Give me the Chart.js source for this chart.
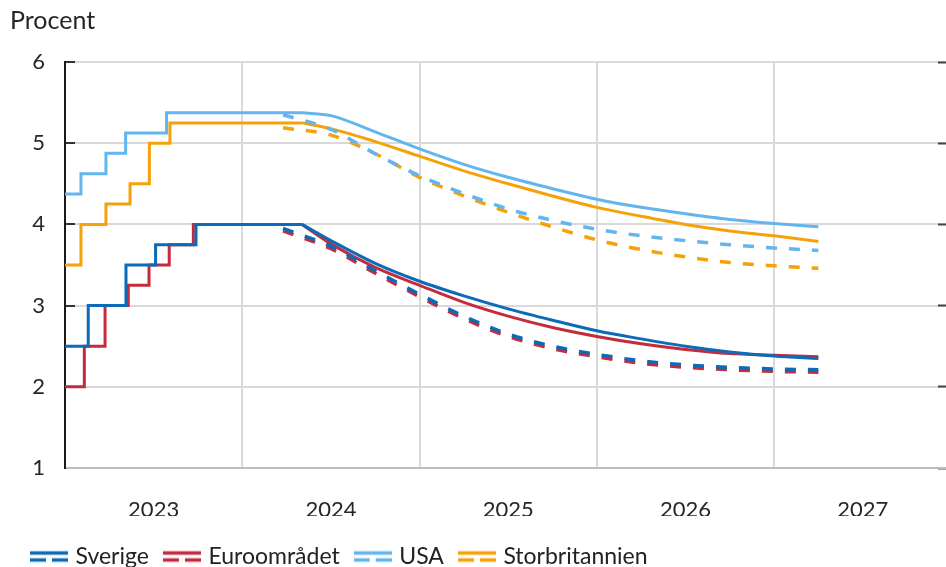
<!DOCTYPE html>
<html>
<head>
<meta charset="utf-8">
<script src="https://cdn.jsdelivr.net/npm/chart.js@4.4.1/dist/chart.umd.min.js"></script>
<style>
html,body{margin:0;padding:0;background:#ffffff;}
#wrap{width:946px;height:567px;position:relative;}
</style>
</head>
<body>
<div id="wrap"><canvas id="c" width="946" height="567" style="width:946px;height:567px;"></canvas></div>
<script>
// ---------------- data ----------------
const yearLabels = [2023, 2024, 2025, 2026, 2027];
const yTicks = [1, 2, 3, 4, 5, 6];
const seriesNames = ['Sverige', 'Euroområdet', 'USA', 'Storbritannien'];

// outcomes (policy rate, step changes), x in decimal years
const seHistDates = [2023.0, 2023.131, 2023.344, 2023.511, 2023.739, 2024.337];
const seHistRate  = [2.5, 3.0, 3.5, 3.75, 4.0, 4.0];
const euHistDates = [2023.0, 2023.109, 2023.226, 2023.357, 2023.474, 2023.588, 2023.724, 2024.337];
const euHistRate  = [2.0, 2.5, 3.0, 3.25, 3.5, 3.75, 4.0, 4.0];
const usHistDates = [2023.0, 2023.090, 2023.231, 2023.342, 2023.573, 2024.337];
const usHistRate  = [4.375, 4.625, 4.875, 5.125, 5.375, 5.375];
const ukHistDates = [2023.0, 2023.090, 2023.231, 2023.367, 2023.476, 2023.592, 2024.337];
const ukHistRate  = [3.5, 4.0, 4.25, 4.5, 5.0, 5.25, 5.25];

// current expectations (solid)
const fwdDates = [2024.337, 2024.5, 2024.75, 2025.0, 2025.25, 2025.5, 2025.75, 2026.0, 2026.25, 2026.5, 2026.75, 2027.0, 2027.25];
const seFwd = [4.00, 3.80, 3.52, 3.30, 3.12, 2.96, 2.82, 2.69, 2.59, 2.50, 2.43, 2.38, 2.35];
const euFwd = [4.00, 3.76, 3.47, 3.25, 3.04, 2.87, 2.73, 2.62, 2.53, 2.46, 2.41, 2.39, 2.37];
const usFwd = [5.375, 5.34, 5.14, 4.93, 4.74, 4.58, 4.44, 4.31, 4.21, 4.13, 4.06, 4.01, 3.97];
const ukFwd = [5.25, 5.18, 5.02, 4.84, 4.66, 4.50, 4.35, 4.21, 4.10, 4.00, 3.92, 3.86, 3.79];

// earlier expectations (dashed)
const prevDates = [2024.23, 2024.5, 2024.75, 2025.0, 2025.25, 2025.5, 2025.75, 2026.0, 2026.25, 2026.5, 2026.75, 2027.0, 2027.25];
const sePrev = [3.95, 3.73, 3.43, 3.14, 2.87, 2.65, 2.50, 2.40, 2.32, 2.27, 2.24, 2.22, 2.21];
const euPrev = [3.92, 3.70, 3.40, 3.11, 2.84, 2.62, 2.47, 2.37, 2.29, 2.24, 2.21, 2.19, 2.18];
const usPrev = [5.35, 5.17, 4.87, 4.60, 4.38, 4.19, 4.05, 3.94, 3.86, 3.80, 3.75, 3.71, 3.68];
const ukPrev = [5.19, 5.10, 4.87, 4.58, 4.35, 4.15, 3.97, 3.81, 3.69, 3.60, 3.53, 3.49, 3.46];

// ---------------- styling ----------------
const FONT = 'Lato';
const COLORS = ['#0b6bb8', '#c42b3c', '#63b5ee', '#f5a20a'];
const GRID = '#d9d9d9';

function pts(xs, ys) { return xs.map((x, i) => ({x: x, y: ys[i]})); }

function makeIcon(color) {
  const c = document.createElement('canvas');
  c.width = 38; c.height = 14;
  const g = c.getContext('2d');
  g.strokeStyle = color;
  g.lineWidth = 3.5;
  g.beginPath(); g.moveTo(0, 3.5); g.lineTo(38, 3.5); g.stroke();
  g.beginPath(); g.moveTo(0, 10.5); g.lineTo(16, 10.5); g.moveTo(22, 10.5); g.lineTo(38, 10.5); g.stroke();
  return c;
}

const groups = [
  [seHistDates, seHistRate, seFwd, sePrev],
  [euHistDates, euHistRate, euFwd, euPrev],
  [usHistDates, usHistRate, usFwd, usPrev],
  [ukHistDates, ukHistRate, ukFwd, ukPrev]
];

const datasets = [];
const legendIdx = [];
groups.forEach((g, k) => {
  const col = COLORS[k];
  legendIdx.push(datasets.length);
  datasets.push({label: seriesNames[k], data: pts(g[0], g[1]), borderColor: col, backgroundColor: col,
    borderWidth: 3, pointRadius: 0, stepped: 'before', fill: false});
  datasets.push({label: seriesNames[k] + ' ', data: pts(fwdDates, g[2]), borderColor: col, backgroundColor: col,
    borderWidth: 3, pointRadius: 0, cubicInterpolationMode: 'monotone', fill: false});
  datasets.push({label: seriesNames[k] + '  ', data: pts(prevDates, g[3]), borderColor: col, backgroundColor: col,
    borderWidth: 3.5, borderDash: [11, 12], borderCapStyle: 'butt', pointRadius: 0, cubicInterpolationMode: 'monotone', fill: false});
});

const icons = COLORS.map(makeIcon);

const xTickValues = [];
yearLabels.forEach(y => { xTickValues.push(y); xTickValues.push(y + 0.5); });
const isInt = v => Math.abs(v - Math.round(v)) < 1e-6;

const legendShift = {
  id: 'legendShift',
  afterLayout(chart) {
    const lg = chart.legend;
    if (!lg) return;
    lg.left += 6; lg.right += 6; lg.top += 11; lg.bottom += 11;
  }
};

new Chart(document.getElementById('c'), {
  type: 'line',
  data: {datasets: datasets},
  plugins: [legendShift],
  options: {
    responsive: false,
    animation: false,
    devicePixelRatio: 1,
    layout: {padding: {left: 10, right: 0, top: 0, bottom: 0}},
    plugins: {
      tooltip: {enabled: false},
      title: {
        display: true, text: 'Procent', align: 'start', color: '#262626',
        font: {family: FONT, size: 25, weight: 'normal'},
        padding: {top: 6, bottom: 26}
      },
      legend: {
        position: 'bottom', align: 'start',
        labels: {
          usePointStyle: true, pointStyleWidth: 30, padding: 18,
          color: '#222', font: {family: FONT, size: 23},
          generateLabels: () => legendIdx.map((di, k) => ({
            text: seriesNames[k], datasetIndex: di, pointStyle: icons[k],
            fillStyle: COLORS[k], strokeStyle: COLORS[k], lineWidth: 0, hidden: false, fontColor: '#222'
          }))
        }
      }
    },
    scales: {
      x: {
        type: 'linear', min: 2023, max: 2027.97,
        afterBuildTicks: s => { s.ticks = xTickValues.map(v => ({value: v})); },
        afterFit: s => { s.height = 48; },
        grid: {
          color: c => (c.tick && isInt(c.tick.value)) ? GRID : 'rgba(0,0,0,0)',
          lineWidth: 2, drawTicks: false
        },
        border: {color: '#bdbdbd', width: 2},
        ticks: {
          autoSkip: false, maxRotation: 0, minRotation: 0, padding: 29,
          color: '#262626', font: {family: FONT, size: 22},
          callback: v => isInt(v) ? '' : String(Math.floor(v))
        }
      },
      y: {
        type: 'linear', position: 'left', min: 1, max: 6,
        afterBuildTicks: s => { s.ticks = yTicks.map(v => ({value: v})); },
        afterFit: s => { s.width = 55; },
        grid: {color: GRID, lineWidth: 2, drawTicks: true, tickLength: -10, tickColor: '#333', tickWidth: 2},
        border: {color: '#1a1a1a', width: 2},
        ticks: {padding: 30, color: '#262626', font: {family: FONT, size: 22}}
      },
      y2: {
        type: 'linear', position: 'right', min: 1, max: 6,
        afterBuildTicks: s => { s.ticks = yTicks.map(v => ({value: v})); },
        afterFit: s => { s.width = 0; },
        grid: {drawOnChartArea: false, drawTicks: true, tickLength: -8, tickColor: '#444', tickWidth: 2},
        border: {display: false},
        ticks: {display: false}
      }
    }
  }
});
</script>
</body>
</html>
